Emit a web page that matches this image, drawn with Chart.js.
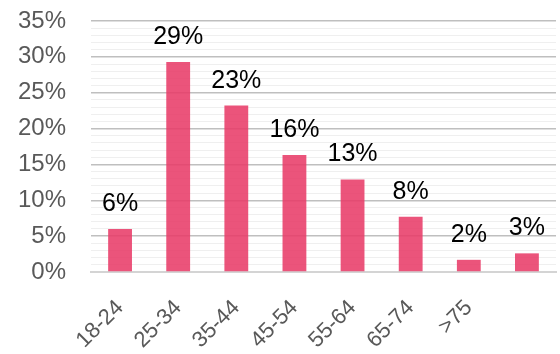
<!DOCTYPE html>
<html>
<head>
<meta charset="utf-8">
<script src="https://cdn.jsdelivr.net/npm/chart.js@4/dist/chart.umd.min.js"></script>
<style>
  html, body { margin: 0; padding: 0; background: #fff; }
  #wrap { width: 560px; height: 354px; }
</style>
</head>
<body>
<div id="wrap"><canvas id="chart" width="560" height="354"></canvas></div>
<script>
// age groups (last bar has no label in the source)
const categories = ['18-24', '25-34', '35-44', '45-54', '55-64', '65-74', '>75', ''];
// bar heights in percent
const shares = [6.0, 29.3, 23.2, 16.3, 12.9, 7.7, 1.7, 2.6];
// rounded labels printed above the bars
const shareLabels = ['6%', '29%', '23%', '16%', '13%', '8%', '2%', '3%'];

const FONT = '"Liberation Sans", Arial, sans-serif';

// draw the value labels above each bar
const barLabels = {
    id: 'barLabels',
    afterDatasetsDraw(chart) {
        const ctx = chart.ctx;
        const meta = chart.getDatasetMeta(0);
        ctx.save();
        ctx.font = '25px ' + FONT;
        ctx.fillStyle = '#000';
        ctx.textAlign = 'center';
        ctx.textBaseline = 'alphabetic';
        meta.data.forEach((bar, i) => {
            ctx.fillText(shareLabels[i], bar.x, bar.y - 18);
        });
        ctx.restore();
    }
};

new Chart(document.getElementById('chart'), {
    type: 'bar',
    data: {
        labels: categories,
        datasets: [{
            data: shares,
            backgroundColor: 'rgba(232, 60, 105, 0.88)',
            borderWidth: 0,
            barPercentage: 0.41,
            categoryPercentage: 1
        }]
    },
    options: {
        responsive: false,
        animation: false,
        layout: { padding: { left: 0, right: 4, top: 21, bottom: 0 } },
        plugins: {
            legend: { display: false },
            tooltip: { enabled: false }
        },
        scales: {
            x: {
                grid: { display: false, drawTicks: false },
                border: { color: '#d4d4d4', width: 2 },
                ticks: {
                    color: '#595959',
                    font: { family: FONT, size: 22 },
                    minRotation: 45,
                    maxRotation: 45,
                    autoSkip: false,
                    padding: 23
                },
                afterFit: (scale) => {
                    scale.height = 82;
                    scale.paddingLeft = 0;
                    scale.paddingRight = 0;
                }
            },
            y: {
                min: 0,
                max: 35,
                grid: {
                    drawTicks: false,
                    color: (c) => c.tick.value % 5 === 0 ? '#bfbfbf' : '#efefef',
                    lineWidth: (c) => c.tick.value % 5 === 0 ? 1.5 : 1
                },
                border: { display: false },
                ticks: {
                    stepSize: 1,
                    autoSkip: false,
                    color: '#595959',
                    font: { family: FONT, size: 24 },
                    padding: 25,
                    callback: (v) => v % 5 === 0 ? v + '%' : ''
                },
                afterFit: (scale) => {
                    scale.width = 91;
                    scale.paddingTop = 0;
                    scale.paddingBottom = 0;
                }
            }
        }
    },
    plugins: [barLabels]
});
</script>
</body>
</html>
